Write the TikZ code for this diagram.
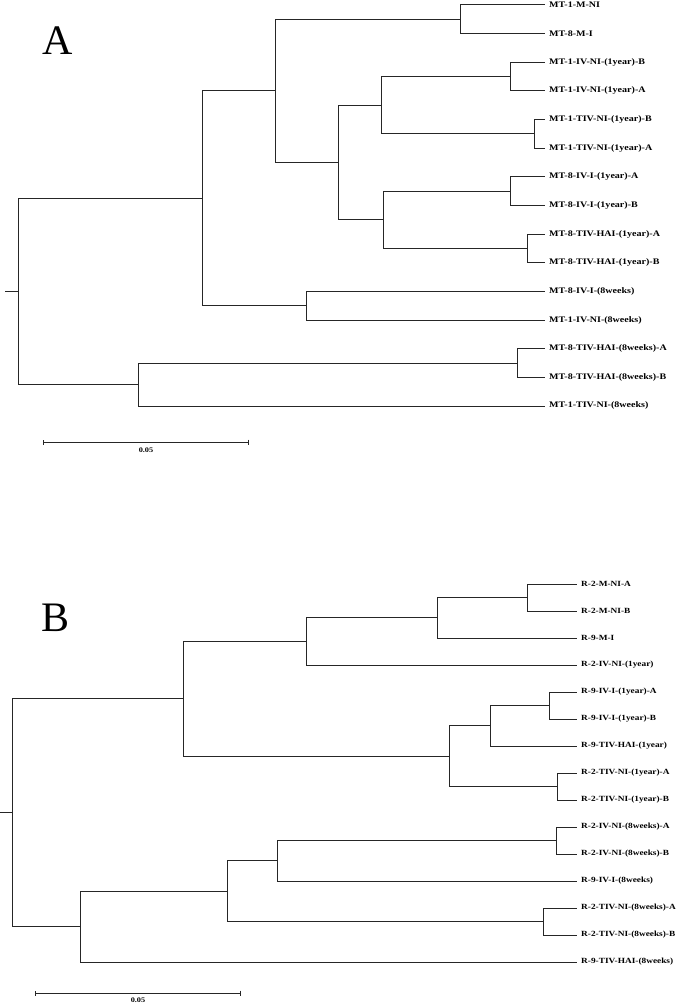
\documentclass[tikz,border=0pt]{standalone}
\usepackage{fontspec}
\setmainfont{Liberation Serif}
\newfontfamily\leaffont[FakeStretch=1.18]{Liberation Serif}
\usetikzlibrary{arrows.meta}

\tikzset{
  branch/.style={draw=black!85, line width=0.8pt},
  leaf/.style={anchor=west, inner xsep=4pt, inner ysep=1pt, font=\leaffont\bfseries\fontsize{8.5}{9}\selectfont},
  leafB/.style={leaf, font=\leaffont\bfseries\fontsize{7.9}{9}\selectfont},
  panel/.style={font=\fontsize{42}{42}\selectfont, inner sep=0pt},
  scalebar/.style={draw=black!85, line width=0.8pt, {Bar[width=5pt]}-{Bar[width=5pt]}},
  scaletext/.style={font=\leaffont\bfseries\fontsize{7}{8}\selectfont, inner sep=1pt}
}

\begin{document}
\begin{tikzpicture}[x=1pt, y=-1pt]

\useasboundingbox (0,0) rectangle (678,1003);

%%% A
\node[panel] (pA) at (58,41) {A};

%% 葉
\node[leaf] (a1)  at (545,4.7)   {MT-1-M-NI};
\node[leaf] (a2)  at (545,33.4)  {MT-8-M-I};
\node[leaf] (a3)  at (545,62.0)  {MT-1-IV-NI-(1year)-B};
\node[leaf] (a4)  at (545,90.7)  {MT-1-IV-NI-(1year)-A};
\node[leaf] (a5)  at (545,119.3) {MT-1-TIV-NI-(1year)-B};
\node[leaf] (a6)  at (545,148.0) {MT-1-TIV-NI-(1year)-A};
\node[leaf] (a7)  at (545,176.7) {MT-8-IV-I-(1year)-A};
\node[leaf] (a8)  at (545,205.3) {MT-8-IV-I-(1year)-B};
\node[leaf] (a9)  at (545,234.0) {MT-8-TIV-HAI-(1year)-A};
\node[leaf] (a10) at (545,262.6) {MT-8-TIV-HAI-(1year)-B};
\node[leaf] (a11) at (545,291.3) {MT-8-IV-I-(8weeks)};
\node[leaf] (a12) at (545,320.0) {MT-1-IV-NI-(8weeks)};
\node[leaf] (a13) at (545,348.6) {MT-8-TIV-HAI-(8weeks)-A};
\node[leaf] (a14) at (545,377.3) {MT-8-TIV-HAI-(8weeks)-B};
\node[leaf] (a15) at (545,405.9) {MT-1-TIV-NI-(8weeks)};

%% 分岐点
\coordinate (ka12)    at (460,19.0);
\coordinate (ka34)    at (510,76.4);
\coordinate (ka56)    at (534,133.7);
\coordinate (ka3456)  at (381,105.0);
\coordinate (ka78)    at (510,191.0);
\coordinate (ka910)   at (527,248.3);
\coordinate (ka7810)  at (383,219.7);
\coordinate (ka3to10) at (338,162.3);
\coordinate (ka1to10) at (275,90.7);
\coordinate (ka1112)  at (306,305.6);
\coordinate (ka1to12) at (202,198.2);
\coordinate (ka1314)  at (517,363.0);
\coordinate (ka13to15) at (138,384.5);
\coordinate (rootA)   at (18,291.3);
\coordinate (stubA)   at (5,291.3);

%% 枝
\draw[branch] (ka12) |- (a1.west);
\draw[branch] (ka12) |- (a2.west);
\draw[branch] (ka34) |- (a3.west);
\draw[branch] (ka34) |- (a4.west);
\draw[branch] (ka56) |- (a5.west);
\draw[branch] (ka56) |- (a6.west);
\draw[branch] (ka3456) |- (ka34);
\draw[branch] (ka3456) |- (ka56);
\draw[branch] (ka78) |- (a7.west);
\draw[branch] (ka78) |- (a8.west);
\draw[branch] (ka910) |- (a9.west);
\draw[branch] (ka910) |- (a10.west);
\draw[branch] (ka7810) |- (ka78);
\draw[branch] (ka7810) |- (ka910);
\draw[branch] (ka3to10) |- (ka3456);
\draw[branch] (ka3to10) |- (ka7810);
\draw[branch] (ka1to10) |- (ka12);
\draw[branch] (ka1to10) |- (ka3to10);
\draw[branch] (ka1112) |- (a11.west);
\draw[branch] (ka1112) |- (a12.west);
\draw[branch] (ka1to12) |- (ka1to10);
\draw[branch] (ka1to12) |- (ka1112);
\draw[branch] (ka1314) |- (a13.west);
\draw[branch] (ka1314) |- (a14.west);
\draw[branch] (ka13to15) |- (ka1314);
\draw[branch] (ka13to15) |- (a15.west);
\draw[branch] (rootA) |- (ka1to12);
\draw[branch] (rootA) |- (ka13to15);
\draw[branch] (stubA) -- (rootA);

%% 目盛り
\coordinate (sA1) at (43,442);
\coordinate (sA2) at (249,442);
\draw[scalebar] (sA1) -- (sA2);
\node[scaletext] (sAlab) at (146,450) {0.05};

%%% B
\node[panel] (pB) at (56,617.5) {B};

%% 葉
\node[leafB] (b1)  at (577,584) {R-2-M-NI-A};
\node[leafB] (b2)  at (577,611) {R-2-M-NI-B};
\node[leafB] (b3)  at (577,638) {R-9-M-I};
\node[leafB] (b4)  at (577,665) {R-2-IV-NI-(1year)};
\node[leafB] (b5)  at (577,692) {R-9-IV-I-(1year)-A};
\node[leafB] (b6)  at (577,719) {R-9-IV-I-(1year)-B};
\node[leafB] (b7)  at (577,746) {R-9-TIV-HAI-(1year)};
\node[leafB] (b8)  at (577,773) {R-2-TIV-NI-(1year)-A};
\node[leafB] (b9)  at (577,800) {R-2-TIV-NI-(1year)-B};
\node[leafB] (b10) at (577,827) {R-2-IV-NI-(8weeks)-A};
\node[leafB] (b11) at (577,854) {R-2-IV-NI-(8weeks)-B};
\node[leafB] (b12) at (577,881) {R-9-IV-I-(8weeks)};
\node[leafB] (b13) at (577,908) {R-2-TIV-NI-(8weeks)-A};
\node[leafB] (b14) at (577,935) {R-2-TIV-NI-(8weeks)-B};
\node[leafB] (b15) at (577,962) {R-9-TIV-HAI-(8weeks)};

%% 分岐点
\coordinate (kb12)     at (527,597.5);
\coordinate (kb123)    at (437,617.8);
\coordinate (kb1to4)   at (306,641.4);
\coordinate (kb56)     at (549,705.5);
\coordinate (kb567)    at (490,725.8);
\coordinate (kb89)     at (557,786.5);
\coordinate (kb5to9)   at (449,756.1);
\coordinate (kb1to9)   at (183,698.8);
\coordinate (kb1011)   at (556,840.5);
\coordinate (kb10to12) at (277,860.8);
\coordinate (kb1314)   at (543,921.5);
\coordinate (kb10to14) at (227,891.1);
\coordinate (kb10to15) at (80,926.6);
\coordinate (rootB)    at (12,812.7);
\coordinate (stubB)    at (0,812.7);

%% 枝
\draw[branch] (kb12) |- (b1.west);
\draw[branch] (kb12) |- (b2.west);
\draw[branch] (kb123) |- (kb12);
\draw[branch] (kb123) |- (b3.west);
\draw[branch] (kb1to4) |- (kb123);
\draw[branch] (kb1to4) |- (b4.west);
\draw[branch] (kb56) |- (b5.west);
\draw[branch] (kb56) |- (b6.west);
\draw[branch] (kb567) |- (kb56);
\draw[branch] (kb567) |- (b7.west);
\draw[branch] (kb89) |- (b8.west);
\draw[branch] (kb89) |- (b9.west);
\draw[branch] (kb5to9) |- (kb567);
\draw[branch] (kb5to9) |- (kb89);
\draw[branch] (kb1to9) |- (kb1to4);
\draw[branch] (kb1to9) |- (kb5to9);
\draw[branch] (kb1011) |- (b10.west);
\draw[branch] (kb1011) |- (b11.west);
\draw[branch] (kb10to12) |- (kb1011);
\draw[branch] (kb10to12) |- (b12.west);
\draw[branch] (kb1314) |- (b13.west);
\draw[branch] (kb1314) |- (b14.west);
\draw[branch] (kb10to14) |- (kb10to12);
\draw[branch] (kb10to14) |- (kb1314);
\draw[branch] (kb10to15) |- (kb10to14);
\draw[branch] (kb10to15) |- (b15.west);
\draw[branch] (rootB) |- (kb1to9);
\draw[branch] (rootB) |- (kb10to15);
\draw[branch] (stubB) -- (rootB);

%% 目盛り
\coordinate (sB1) at (35,993);
\coordinate (sB2) at (241,993);
\draw[scalebar] (sB1) -- (sB2);
\node[scaletext] (sBlab) at (138,1000) {0.05};

\end{tikzpicture}
\end{document}
